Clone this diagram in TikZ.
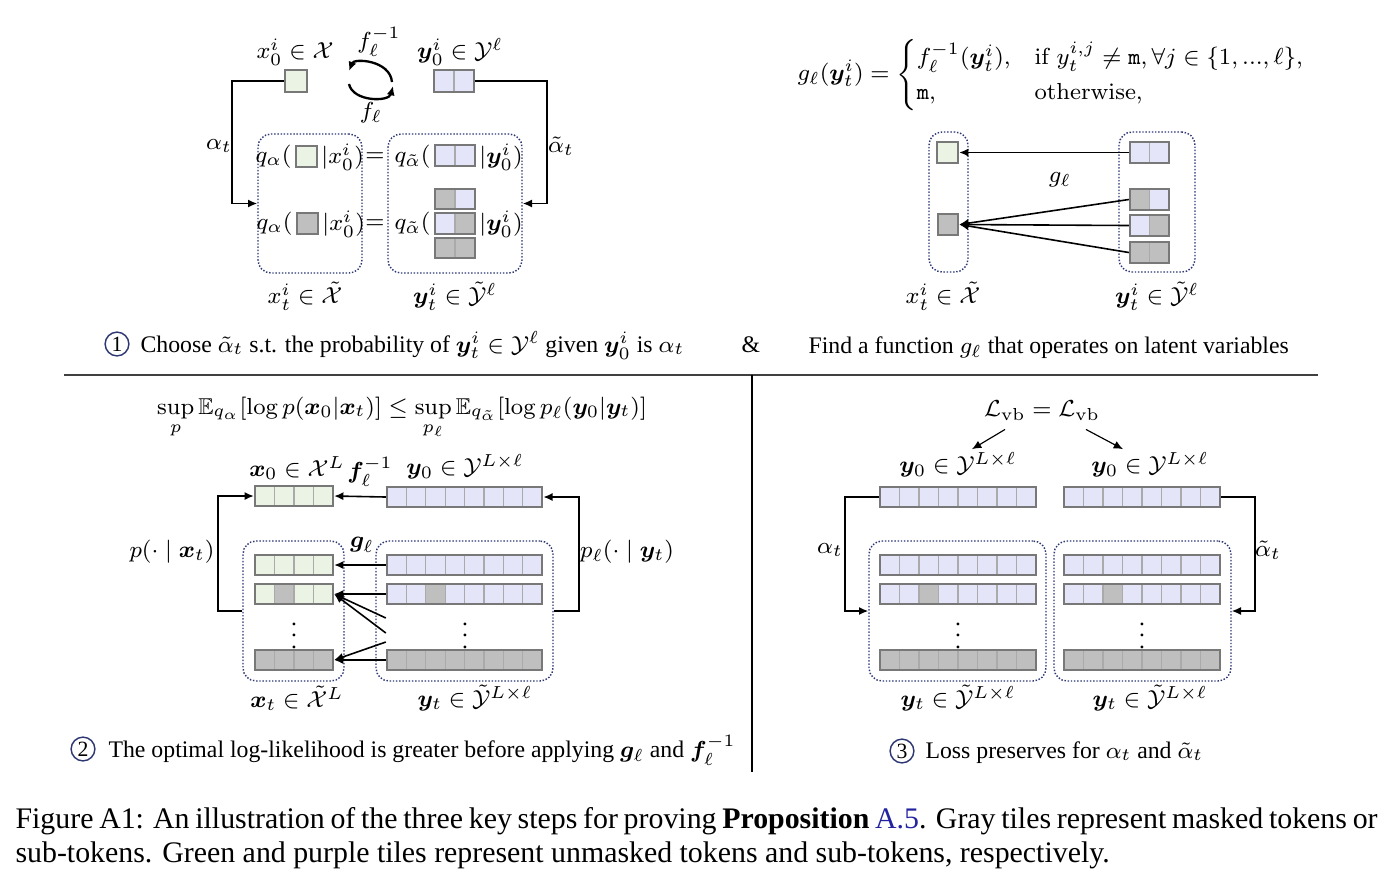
\documentclass[tikz,border=0pt]{standalone}
\usepackage{amsmath,amssymb,bm}
\usepackage[no-math]{fontspec}
\setmainfont{Liberation Serif}
\usetikzlibrary{arrows.meta,positioning,calc,fit}

\definecolor{tgreen}{RGB}{235,244,228}
\definecolor{tpurple}{RGB}{229,229,250}
\definecolor{tgray}{RGB}{191,191,191}
\definecolor{tedge}{RGB}{120,120,120}
\definecolor{tline}{RGB}{170,170,170}
\definecolor{navy}{RGB}{45,55,115}
\definecolor{linkblue}{RGB}{35,35,160}

\newcommand{\px}{0.345pt}
% one row of tiles: name, left x, top y, cell width, cell height, fills
\newcommand{\tilerow}[6]{%
  \foreach \c [count=\k] in {#6}{
    \fill[\c] ({#2+(\k-1)*#4},#3) rectangle ++(#4,#5);
    \ifnum\k>1 \draw[tline,line width=0.4pt] ({#2+(\k-1)*#4},#3) -- ++(0,#5);\fi
    \xdef\lastk{\k}
  }
  \coordinate (#1-a) at (#2,#3);
  \coordinate (#1-b) at ({#2+\lastk*#4},{#3+#5});
  \node[tileframe,fit=(#1-a)(#1-b)] (#1) {};
}

\tikzset{
  tileframe/.style={draw=tedge,line width=0.8pt,inner sep=0pt},
  dotbox/.style={draw=navy,dash pattern=on 0.5pt off 0.6pt,line width=0.5pt,rounded corners=4.5pt,inner sep=0pt},
  arr/.style={-{Latex[length=3.2pt,width=2.8pt]},line width=0.55pt},
  lbl/.style={inner sep=1pt,font=\fontsize{8.1}{10}\selectfont},
  txt/.style={inner sep=0pt,font=\fontsize{8.2}{10}\selectfont,anchor=base west},
  num/.style={circle,draw=navy,line width=0.5pt,inner sep=0pt,minimum size=8.2pt,font=\fontsize{7.5}{8}\selectfont},
  capt/.style={inner sep=0pt,anchor=base west,font=\fontsize{10.3}{12}\selectfont}
}

\begin{document}
\begin{tikzpicture}[x=0.345pt,y=-0.345pt]
\useasboundingbox (0,0) rectangle (1392,885);

% step 1, left
\node[lbl] (x0lbl) at (295,52) {$x_0^i\in\mathcal{X}$};
\tilerow{x0}{285}{70}{22}{22}{tgreen}
\node[lbl] (y0lbl) at (460,52) {$\bm{y}_0^i\in\mathcal{Y}^\ell$};
\tilerow{y0}{434}{70}{20}{22}{tpurple,tpurple}
\node[lbl] (finv) at (379,42) {$f_\ell^{-1}$};
\node[lbl] (f) at (371,113) {$f_\ell$};
\coordinate (ca) at (392,82); \coordinate (cb) at (349,71);
\coordinate (cc) at (349,84); \coordinate (cd) at (393,86);
\draw[arr,line width=0.8pt] (ca) .. controls (390,60) and (354,58) .. (cb);
\draw[arr,line width=0.8pt] (cc) .. controls (353,102) and (389,102) .. (cd);

\node[dotbox,minimum width=104*\px,minimum height=139*\px] (xt) at (310,203.5) {};
\node[dotbox,minimum width=134*\px,minimum height=139*\px] (yt) at (455,203.5) {};

\node[lbl,anchor=east] (qa1) at (295,157) {$q_\alpha($};
\tilerow{g1}{296}{146}{21}{21}{tgreen}
\node[lbl,anchor=west] (qa1r) at (318,157) {$|x_0^i)$};
\node[lbl] (eq1) at (375,157) {$=$};
\node[lbl,anchor=east] (qb1) at (434,157) {$q_{\tilde\alpha}($};
\tilerow{p1}{435}{145}{20}{21}{tpurple,tpurple}
\node[lbl,anchor=west] (qb1r) at (476,157) {$|\bm{y}_0^i)$};

\node[lbl,anchor=east] (qa2) at (296,224) {$q_\alpha($};
\tilerow{g2}{297}{213}{21}{21}{tgray}
\node[lbl,anchor=west] (qa2r) at (319,224) {$|x_0^i)$};
\node[lbl] (eq2) at (375,224) {$=$};
\node[lbl,anchor=east] (qb2) at (434,224) {$q_{\tilde\alpha}($};
\tilerow{p2}{435}{189}{20}{20}{tgray,tpurple}
\tilerow{p3}{435}{213}{20}{21}{tpurple,tgray}
\tilerow{p4}{435}{238}{20}{20}{tgray,tgray}
\node[lbl,anchor=west] (qb2r) at (476,224) {$|\bm{y}_0^i)$};

\draw[arr] (x0.west) -- ++(-52,0) |- (xt.west);
\draw[arr] (y0.east) -- ++(72,0) |- (yt.east);
\node[lbl] (al1) at (219,146) {$\alpha_t$};
\node[lbl] (alt1) at (561,146) {$\tilde\alpha_t$};
\node[lbl] (xtlbl) at (305,296) {$x_t^i\in\tilde{\mathcal{X}}$};
\node[lbl] (ytlbl) at (455,296) {$\bm{y}_t^i\in\tilde{\mathcal{Y}}^\ell$};

\node[num] (n1) at (117,344) {1};
\node[txt] (cap1) at (140,352) {Choose $\tilde\alpha_t$ s.t. the probability of $\bm{y}_t^i\in\mathcal{Y}^\ell$ given $\bm{y}_0^i$ is $\alpha_t$};
\node[txt] (amp) at (741,352) {\&};

% step 1, right
\node[lbl,font=\fontsize{8.2}{10}\selectfont] (geq) at (1052,75) {$\displaystyle g_\ell(\bm{y}_t^i)=\begin{cases}f_\ell^{-1}(\bm{y}_t^i), & \mathrm{if}\ y_t^{i,j}\neq\mathtt{m},\forall j\in\{1,...,\ell\},\\ \mathtt{m}, & \mathrm{otherwise,}\end{cases}$};
\node[dotbox,minimum width=39*\px,minimum height=140*\px] (xtb) at (948.5,202) {};
\node[dotbox,minimum width=76*\px,minimum height=140*\px] (ytb) at (1157,202) {};
\tilerow{ga}{937}{142}{21}{21}{tgreen}
\tilerow{gb}{938}{214}{20}{21}{tgray}
\tilerow{ha}{1130}{142}{19.5}{21}{tpurple,tpurple}
\tilerow{hb}{1130}{189}{19.5}{21}{tgray,tpurple}
\tilerow{hc}{1130}{215}{19.5}{21}{tpurple,tgray}
\tilerow{hd}{1130}{242}{19.5}{21}{tgray,tgray}
\draw[arr] (ha.west) -- (ga.east);
\foreach \r in {hb,hc,hd} \draw[arr] (\r.west) -- (gb.east);
\node[lbl] (gl) at (1060,180) {$g_\ell$};
\node[lbl] (xtblbl) at (943,296) {$x_t^i\in\tilde{\mathcal{X}}$};
\node[lbl] (ytblbl) at (1157,296) {$\bm{y}_t^i\in\tilde{\mathcal{Y}}^\ell$};
\node[txt] (cap1b) at (808,353) {Find a function $g_\ell$ that operates on latent variables};

% rules
\draw[black!75,line width=0.7pt] (64,375) -- (1318,375);
\draw[line width=0.5pt] (752,375) -- (752,772);

% step 2
\node[lbl,font=\fontsize{7.9}{10}\selectfont] (supeq) at (402,418) {$\displaystyle\sup_p\mathbb{E}_{q_\alpha}[\log p(\bm{x}_0|\bm{x}_t)]\le\sup_{p_\ell}\mathbb{E}_{q_{\tilde\alpha}}[\log p_\ell(\bm{y}_0|\bm{y}_t)]$};
\node[lbl] (x0Llbl) at (297,468) {$\bm{x}_0\in\mathcal{X}^L$};
\node[lbl] (finvb) at (370,472) {$\bm{f}_\ell^{-1}$};
\node[lbl] (y0Llbl) at (465,467) {$\bm{y}_0\in\mathcal{Y}^{L\times\ell}$};
\tilerow{xr}{255}{486}{19.5}{20}{tgreen,tgreen,tgreen,tgreen}
\tilerow{yr}{387}{487}{19.4}{20}{tpurple,tpurple,tpurple,tpurple,tpurple,tpurple,tpurple,tpurple}
\draw[arr] (yr.west) -- (xr.east);
\node[dotbox,minimum width=101*\px,minimum height=140*\px] (xtL) at (293.5,611) {};
\node[dotbox,minimum width=177*\px,minimum height=140*\px] (ytL) at (464.5,611) {};
\tilerow{xa}{255}{555}{19.5}{20}{tgreen,tgreen,tgreen,tgreen}
\tilerow{xb}{255}{584}{19.5}{20}{tgreen,tgray,tgreen,tgreen}
\tilerow{xc}{255}{650}{19.5}{20}{tgray,tgray,tgray,tgray}
\tilerow{ya}{387}{555}{19.4}{20}{tpurple,tpurple,tpurple,tpurple,tpurple,tpurple,tpurple,tpurple}
\tilerow{yb}{387}{584}{19.4}{20}{tpurple,tpurple,tgray,tpurple,tpurple,tpurple,tpurple,tpurple}
\tilerow{yc}{387}{650}{19.4}{20}{tgray,tgray,tgray,tgray,tgray,tgray,tgray,tgray}
\node[lbl] (dx) at (294,627) {$\vdots$};
\node[lbl] (dy) at (465,627) {$\vdots$};
\node[lbl] (gbold) at (362,545) {$\bm{g}_\ell$};
\draw[arr] (ya.west) -- (xa.east);
\draw[arr] (yb.west) -- (xb.east);
\draw[arr] (yc.west) -- (xc.east);
\draw[arr] ($(yb.west)+(0,24)$) -- (xb.east);
\draw[arr] ($(yb.west)+(0,39)$) -- (xb.east);
\draw[arr] ($(yc.west)+(0,-18)$) -- (xc.east);
\draw[arr] (xtL.west) -- ++(-24,0) |- (xr.west);
\draw[arr] (ytL.east) -- ++(25,0) |- (yr.east);
\node[lbl] (pl) at (172,552) {$p(\cdot\mid\bm{x}_t)$};
\node[lbl] (pr) at (627,552) {$p_\ell(\cdot\mid\bm{y}_t)$};
\node[lbl] (xtLlbl) at (297,698) {$\bm{x}_t\in\tilde{\mathcal{X}}^L$};
\node[lbl] (ytLlbl) at (475,698) {$\bm{y}_t\in\tilde{\mathcal{Y}}^{L\times\ell}$};
\node[num] (n2) at (83,749) {2};
\node[txt] (cap2) at (108,757) {The optimal log-likelihood is greater before applying $\bm{g}_\ell$ and $\bm{f}_\ell^{-1}$};

% step 3
\node[lbl] (lvb) at (1042,411) {$\mathcal{L}_{\mathrm{vb}}=\mathcal{L}_{\mathrm{vb}}$};
\node[lbl] (y0c) at (958,465) {$\bm{y}_0\in\mathcal{Y}^{L\times\ell}$};
\node[lbl] (y0d) at (1150,465) {$\bm{y}_0\in\mathcal{Y}^{L\times\ell}$};
\draw[arr,line width=0.4pt] ($(lvb.south)+(-37,5)$) -- ($(y0c.north)+(14,0)$);
\draw[arr,line width=0.4pt] ($(lvb.south)+(44,5)$) -- ($(y0d.north)+(-27,0)$);
\tilerow{ua}{880}{487}{19.5}{20}{tpurple,tpurple,tpurple,tpurple,tpurple,tpurple,tpurple,tpurple}
\tilerow{va}{1064}{487}{19.5}{20}{tpurple,tpurple,tpurple,tpurple,tpurple,tpurple,tpurple,tpurple}
\node[dotbox,minimum width=177*\px,minimum height=140*\px] (utb) at (957.5,611) {};
\node[dotbox,minimum width=177*\px,minimum height=140*\px] (vtb) at (1142.5,611) {};
\tilerow{ub}{880}{555}{19.5}{20}{tpurple,tpurple,tpurple,tpurple,tpurple,tpurple,tpurple,tpurple}
\tilerow{uc}{880}{584}{19.5}{20}{tpurple,tpurple,tgray,tpurple,tpurple,tpurple,tpurple,tpurple}
\tilerow{ud}{880}{650}{19.5}{20}{tgray,tgray,tgray,tgray,tgray,tgray,tgray,tgray}
\tilerow{vb}{1064}{555}{19.5}{20}{tpurple,tpurple,tpurple,tpurple,tpurple,tpurple,tpurple,tpurple}
\tilerow{vc}{1064}{584}{19.5}{20}{tpurple,tpurple,tgray,tpurple,tpurple,tpurple,tpurple,tpurple}
\tilerow{vd}{1064}{650}{19.5}{20}{tgray,tgray,tgray,tgray,tgray,tgray,tgray,tgray}
\node[lbl] (du) at (958,627) {$\vdots$};
\node[lbl] (dv) at (1142,627) {$\vdots$};
\draw[arr] (ua.west) -- ++(-34,0) |- (utb.west);
\draw[arr] (va.east) -- ++(34,0) |- (vtb.east);
\node[lbl] (al3) at (830,550) {$\alpha_t$};
\node[lbl] (alt3) at (1268,550) {$\tilde\alpha_t$};
\node[lbl] (utlbl) at (958,698) {$\bm{y}_t\in\tilde{\mathcal{Y}}^{L\times\ell}$};
\node[lbl] (vtlbl) at (1150,698) {$\bm{y}_t\in\tilde{\mathcal{Y}}^{L\times\ell}$};
\node[num] (n3) at (902,751) {3};
\node[txt] (cap3) at (925,758) {Loss preserves for $\alpha_t$ and $\tilde\alpha_t$};

% figure caption
\node[capt] (fc1) at (15,828) {\makebox[469.9pt][s]{Figure A1: An illustration of the three key steps for proving \textbf{Proposition} \textcolor{linkblue}{A.5}. Gray tiles represent masked tokens or}};
\node[capt] (fc2) at (15,862) {sub-tokens. Green and purple tiles represent unmasked tokens and sub-tokens, respectively.};
\end{tikzpicture}
\end{document}
